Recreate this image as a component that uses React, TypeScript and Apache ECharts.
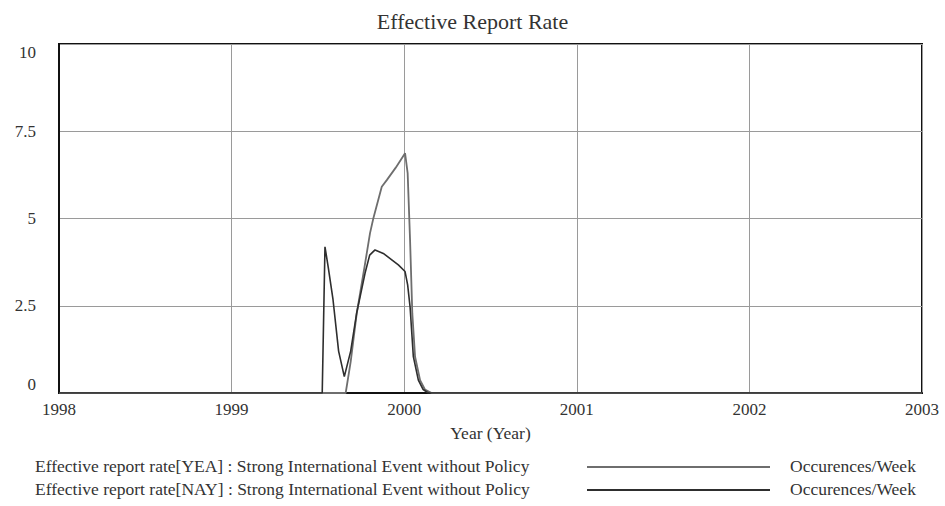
import React, { useEffect, useRef } from "react";
import * as echarts from "echarts";

const TITLE = "Effective Report Rate";
const X_TICKS = [1998, 1999, 2000, 2001, 2002, 2003];
const Y_TICKS = [0, 2.5, 5, 7.5, 10];

const NAY_X = [1998, 1999.525, 1999.541, 1999.56, 1999.587, 1999.62, 1999.653, 1999.69, 1999.725, 1999.773, 1999.8, 1999.831, 1999.879, 1999.966, 2000.005, 2000.02, 2000.034, 2000.053, 2000.082, 2000.11, 2000.14, 2003];
const NAY_Y = [0, 0, 4.19, 3.6, 2.7, 1.2, 0.47, 1.2, 2.3, 3.43, 3.95, 4.1, 4.0, 3.67, 3.48, 3.1, 2.47, 1.04, 0.37, 0.1, 0, 0];

const YEA_X = [1998, 1999.661, 1999.69, 1999.725, 1999.773, 1999.802, 1999.821, 1999.87, 1999.899, 1999.95, 2000.005, 2000.02, 2000.034, 2000.047, 2000.063, 2000.092, 2000.12, 2000.159, 2003];
const YEA_Y = [0, 0, 0.9, 2.28, 3.7, 4.58, 5.0, 5.91, 6.1, 6.45, 6.87, 6.3, 4.38, 2.28, 1.04, 0.37, 0.1, 0, 0];

const LEGEND_NAMES = [
  "Effective report rate[YEA] : Strong International Event without Policy",
  "Effective report rate[NAY] : Strong International Event without Policy",
];
const UNIT = "Occurences/Week";
const COLORS = ["#6e6e6e", "#2e2e2e"];

const FONT = "'Liberation Serif', 'DejaVu Serif', serif";
const TXT = "#333";

export default function App() {
  const ref = useRef<HTMLDivElement>(null);
  useEffect(() => {
    if (!ref.current) return;
    const chart = echarts.init(ref.current, undefined, { renderer: "svg" });
    const yea = YEA_X.map((x, i) => [x, YEA_Y[i]]);
    const nay = NAY_X.map((x, i) => [x, NAY_Y[i]]);
    const legendRows = [467, 490];
    chart.setOption({
      animation: false,
      backgroundColor: "#fff",
      textStyle: { fontFamily: FONT },
      title: {
        text: TITLE,
        left: "center",
        top: 5,
        textStyle: { fontFamily: FONT, fontSize: 22, fontWeight: "normal", color: TXT },
      },
      grid: {
        left: 59,
        right: 23,
        top: 44,
        bottom: 113,
        show: true,
        borderColor: "#111",
        borderWidth: 2,
        containLabel: false,
      },
      xAxis: {
        type: "value",
        min: X_TICKS[0],
        max: X_TICKS[X_TICKS.length - 1],
        interval: 1,
        name: "Year (Year)",
        nameLocation: "middle",
        nameGap: 31,
        nameTextStyle: { fontFamily: FONT, fontSize: 17.5, color: TXT },
        axisLine: { show: true, lineStyle: { color: "#111", width: 2 } },
        axisTick: { show: false },
        axisLabel: {
          fontFamily: FONT,
          fontSize: 17,
          color: TXT,
          margin: 8,
          formatter: (v: number) => String(v),
        },
        splitLine: { show: true, lineStyle: { color: "#9a9a9a", width: 1 } },
      },
      yAxis: {
        type: "value",
        min: Y_TICKS[0],
        max: Y_TICKS[Y_TICKS.length - 1],
        interval: 2.5,
        axisLine: { show: true, lineStyle: { color: "#111", width: 2 } },
        axisTick: { show: false },
        axisLabel: {
          fontFamily: FONT,
          fontSize: 17,
          color: TXT,
          margin: 23,
          verticalAlignMaxLabel: "top",
          verticalAlignMinLabel: "bottom",
          formatter: (v: number) => String(v),
        },
        splitLine: { show: true, lineStyle: { color: "#9a9a9a", width: 1 } },
      },
      series: [
        {
          name: "YEA",
          type: "line",
          data: yea,
          showSymbol: false,
          lineStyle: { color: COLORS[0], width: 1.8 },
          itemStyle: { color: COLORS[0] },
        },
        {
          name: "NAY",
          type: "line",
          data: nay,
          showSymbol: false,
          lineStyle: { color: COLORS[1], width: 1.6 },
          itemStyle: { color: COLORS[1] },
        },
      ],
      graphic: LEGEND_NAMES.flatMap((name, i) => [
        {
          type: "text",
          left: 35,
          top: legendRows[i] - 10,
          style: { text: name, font: `17.5px ${FONT}`, fill: TXT },
        },
        {
          type: "line",
          shape: { x1: 587, y1: legendRows[i], x2: 770, y2: legendRows[i] },
          style: { stroke: COLORS[i], lineWidth: 2 },
        },
        {
          type: "text",
          left: 790,
          top: legendRows[i] - 10,
          style: { text: UNIT, font: `17.5px ${FONT}`, fill: TXT },
        },
      ]),
    });
    return () => chart.dispose();
  }, []);
  return (
    <div
      ref={ref}
      style={{ position: "fixed", left: 0, top: 0, width: 945, height: 506 }}
    />
  );
}
